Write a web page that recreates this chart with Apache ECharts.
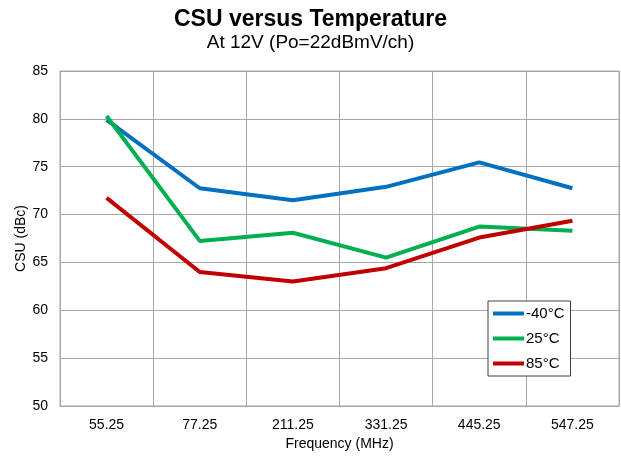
<!DOCTYPE html>
<html>
<head>
<meta charset="utf-8">
<script src="https://cdn.jsdelivr.net/npm/echarts@6/dist/echarts.min.js"></script>
<style>
  html, body { margin: 0; padding: 0; background: #fff; }
  #chart { width: 621px; height: 456px; }
</style>
</head>
<body>
<div id="chart"></div>
<script>
// 频率点 (MHz)
var freqs = ["55.25", "77.25", "211.25", "331.25", "445.25", "547.25"];
// CSU values per temperature
var csuMinus40 = [79.9, 72.75, 71.5, 72.9, 75.45, 72.75];
var csu25 = [80.3, 67.25, 68.1, 65.5, 68.75, 68.3];
var csu85 = [71.75, 64.0, 63.0, 64.4, 67.6, 69.35];
var seriesNames = ["-40°C", "25°C", "85°C"];
var seriesColors = ["#0070C0", "#00B050", "#C00000"];

var font = "Liberation Sans, Arial, sans-serif";
var chart = echarts.init(document.getElementById("chart"));

function mkSeries(name, data, color) {
  return {
    name: name,
    type: "line",
    data: data,
    symbol: "none",
    lineStyle: { width: 4, color: color },
    itemStyle: { color: color }
  };
}

chart.setOption({
  animation: false,
  title: {
    text: "CSU versus Temperature",
    subtext: "At 12V (Po=22dBmV/ch)",
    left: "center",
    top: 3,
    itemGap: 2,
    textStyle: { fontFamily: font, fontSize: 23, fontWeight: "bold", color: "#000" },
    subtextStyle: { fontFamily: font, fontSize: 19, color: "#000" }
  },
  legend: {
    orient: "vertical",
    left: 488,
    top: 301,
    padding: [5, 6, 5, 5],
    itemGap: 10,
    itemWidth: 31,
    itemHeight: 15,
    borderColor: "#404040",
    borderWidth: 1,
    backgroundColor: "#fff",
    icon: "path://M0,5.5 L31,5.5 L31,9.5 L0,9.5 Z",
    textStyle: { fontFamily: font, fontSize: 15, color: "#000", padding: [0, 0, 0, -3] },
    data: seriesNames
  },
  grid: {
    left: 60, right: 2, top: 71, bottom: 50,
    show: true, borderColor: "#a6a6a6", borderWidth: 1
  },
  xAxis: {
    type: "category",
    data: freqs,
    boundaryGap: true,
    name: "Frequency (MHz)",
    nameLocation: "middle",
    nameGap: 29,
    nameTextStyle: { fontFamily: font, fontSize: 14, color: "#000" },
    axisLine: { lineStyle: { color: "#a6a6a6" } },
    axisTick: { show: false },
    axisLabel: { fontFamily: font, fontSize: 14, color: "#000", margin: 12 },
    splitLine: { show: true, lineStyle: { color: "#a6a6a6", width: 1 } }
  },
  yAxis: {
    type: "value",
    min: 50, max: 85, interval: 5,
    name: "CSU (dBc)",
    nameLocation: "middle",
    nameGap: 32,
    nameMoveOverlap: false,
    nameTextStyle: { fontFamily: font, fontSize: 14, color: "#000" },
    axisLine: { show: false },
    axisTick: { show: false },
    axisLabel: { fontFamily: font, fontSize: 14, color: "#000", margin: 12 },
    splitLine: { lineStyle: { color: "#a6a6a6", width: 1 } }
  },
  series: [
    mkSeries(seriesNames[0], csuMinus40, seriesColors[0]),
    mkSeries(seriesNames[1], csu25, seriesColors[1]),
    mkSeries(seriesNames[2], csu85, seriesColors[2])
  ]
});
</script>
</body>
</html>
